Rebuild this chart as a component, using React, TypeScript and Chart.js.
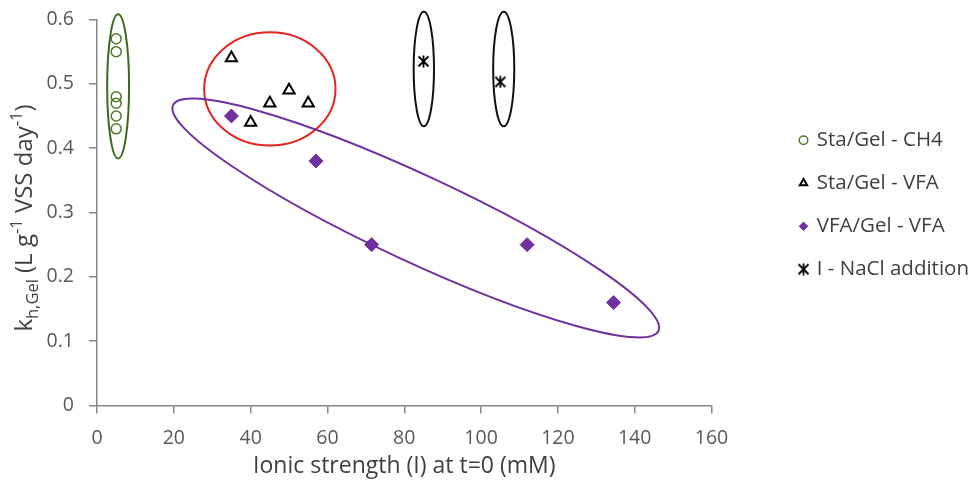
import React, { useEffect, useRef } from 'react';
import { Chart, registerables } from 'chart.js';

Chart.register(...registerables);

// ---- data ----
const seriesLabels = ['Sta/Gel - CH4', 'Sta/Gel - VFA', 'VFA/Gel - VFA', 'I - NaCl addition'];
const staCh4X = [5, 5, 5, 5, 5, 5];
const staCh4Y = [0.57, 0.55, 0.48, 0.47, 0.45, 0.43];
const staVfaX = [35, 40, 45, 50, 55];
const staVfaY = [0.54, 0.44, 0.47, 0.49, 0.47];
const vfaVfaX = [35, 57, 71.5, 112, 134.5];
const vfaVfaY = [0.45, 0.38, 0.25, 0.25, 0.16];
const naclX = [85, 105];
const naclY = [0.535, 0.503];
const xTicks = [0, 20, 40, 60, 80, 100, 120, 140, 160];
const yTicks = [0, 0.1, 0.2, 0.3, 0.4, 0.5, 0.6];
const xTitle = 'Ionic strength (I) at t=0 (mM)';
const yTitleParts = [
  { t: 'k', k: 'n' },
  { t: 'h,Gel', k: 'sub' },
  { t: ' (L g', k: 'n' },
  { t: '-1', k: 'sup' },
  { t: ' VSS day', k: 'n' },
  { t: '-1', k: 'sup' },
  { t: ')', k: 'n' },
];

// group outlines (annotations, in data units)
const groupEllipses = [
  { cx: 5.5, cy: 0.496, rx: 2.85, ry: 0.112, color: '#3b6a1f' },
  { cx: 45, cy: 0.492, rx: 17.1, ry: 0.088, color: '#e3241f' },
  { cx: 85.1, cy: 0.523, rx: 2.65, ry: 0.089, color: '#111111' },
  { cx: 105.9, cy: 0.523, rx: 2.75, ry: 0.089, color: '#111111' },
];
const tiltedEllipse = { x1: 19.8, y1: 0.467, x2: 146.2, y2: 0.116, ratio: 0.161, color: '#7030a0' };

const FONT = "'Open Sans', sans-serif";
const zip = (xs: number[], ys: number[]) => xs.map((x, i) => ({ x, y: ys[i] }));

const ellipsePlugin = {
  id: 'groupEllipses',
  beforeDatasetsDraw(chart: any) {
    const { ctx, scales } = chart;
    const xs = scales.x, ys = scales.y;
    ctx.save();
    ctx.lineWidth = 2;
    for (const e of groupEllipses) {
      const cx = xs.getPixelForValue(e.cx);
      const cy = ys.getPixelForValue(e.cy);
      const rx = Math.abs(xs.getPixelForValue(e.cx + e.rx) - cx);
      const ry = Math.abs(ys.getPixelForValue(e.cy + e.ry) - cy);
      ctx.strokeStyle = e.color;
      ctx.beginPath();
      ctx.ellipse(cx, cy, rx, ry, 0, 0, Math.PI * 2);
      ctx.stroke();
    }
    const t = tiltedEllipse;
    const p1x = xs.getPixelForValue(t.x1), p1y = ys.getPixelForValue(t.y1);
    const p2x = xs.getPixelForValue(t.x2), p2y = ys.getPixelForValue(t.y2);
    const a = Math.hypot(p2x - p1x, p2y - p1y) / 2;
    ctx.strokeStyle = t.color;
    ctx.beginPath();
    ctx.ellipse((p1x + p2x) / 2, (p1y + p2y) / 2, a, a * t.ratio, Math.atan2(p2y - p1y, p2x - p1x), 0, Math.PI * 2);
    ctx.stroke();
    ctx.restore();
  },
};

const yTitlePlugin = {
  id: 'yTitleRich',
  afterDraw(chart: any) {
    const { ctx, chartArea } = chart;
    const mainFont = `24px ${FONT}`;
    const smallFont = `16.5px ${FONT}`;
    ctx.save();
    ctx.translate(32, (chartArea.top + chartArea.bottom) / 2 + 5.5);
    ctx.rotate(-Math.PI / 2);
    let total = 0;
    const widths = yTitleParts.map((p) => {
      ctx.font = p.k === 'n' ? mainFont : smallFont;
      const w = ctx.measureText(p.t).width;
      total += w;
      return w;
    });
    let x = -total / 2;
    ctx.fillStyle = '#404040';
    ctx.textBaseline = 'alphabetic';
    ctx.textAlign = 'left';
    yTitleParts.forEach((p, i) => {
      ctx.font = p.k === 'n' ? mainFont : smallFont;
      const dy = p.k === 'sub' ? 5.5 : p.k === 'sup' ? -10 : 0;
      ctx.fillText(p.t, x, dy);
      x += widths[i];
    });
    ctx.restore();
  },
};

function makeStar() {
  const c = document.createElement('canvas');
  c.width = 13;
  c.height = 13;
  const g = c.getContext('2d')!;
  g.strokeStyle = '#000';
  g.lineWidth = 1.8;
  g.beginPath();
  g.moveTo(1.5, 1.5); g.lineTo(11.5, 11.5);
  g.moveTo(11.5, 1.5); g.lineTo(1.5, 11.5);
  g.moveTo(6.5, 0.5); g.lineTo(6.5, 12.5);
  g.stroke();
  return c;
}

export default function App() {
  const ref = useRef<HTMLCanvasElement>(null);
  useEffect(() => {
    const canvas = ref.current!;
    Chart.defaults.font.family = FONT;
    const star = makeStar();
    const axisGray = '#868686';
    const chart = new Chart(canvas, {
      type: 'scatter',
      data: {
        datasets: [
          { label: seriesLabels[0], data: zip(staCh4X, staCh4Y), pointStyle: 'circle', pointRadius: 5, backgroundColor: 'rgba(0,0,0,0)', borderColor: '#4f7a2c', borderWidth: 1.5 },
          { label: seriesLabels[1], data: zip(staVfaX, staVfaY), pointStyle: 'triangle', pointRadius: 6.5, backgroundColor: 'rgba(0,0,0,0)', borderColor: '#000000', borderWidth: 2 },
          { label: seriesLabels[2], data: zip(vfaVfaX, vfaVfaY), pointStyle: 'rectRot', pointRadius: 7, backgroundColor: '#7030a0', borderColor: '#7030a0', borderWidth: 1 },
          { label: seriesLabels[3], data: zip(naclX, naclY), pointStyle: star as any, pointRadius: 6, backgroundColor: '#000', borderColor: '#000', borderWidth: 2 },
        ],
      },
      options: {
        responsive: false,
        animation: false,
        layout: { padding: { left: 0, top: 19.5, right: -7, bottom: 0 } },
        plugins: {
          tooltip: { enabled: false },
          legend: {
            position: 'right',
            align: 'center',
            fullSize: false,
            labels: {
              usePointStyle: true,
              boxWidth: 6,
              boxHeight: 6,
              padding: 7,
              color: '#404040',
              font: { size: 20.5, lineHeight: '36px' } as any,
              generateLabels: (c: any) =>
                (Chart.defaults.plugins.legend.labels.generateLabels as any)(c).map((l: any) => ({ ...l, text: [l.text] })),
            },
          },
        },
        scales: {
          x: {
            type: 'linear',
            min: xTicks[0],
            max: xTicks[xTicks.length - 1],
            afterBuildTicks: (s: any) => { s.ticks = xTicks.map((v) => ({ value: v })); },
            afterFit: (s: any) => { s.height = 81.5; },
            grid: { display: true, drawOnChartArea: false, drawTicks: true, tickLength: 8, tickColor: axisGray, lineWidth: 1.5 },
            border: { display: true, color: axisGray, width: 1.5 },
            ticks: { color: '#595959', font: { size: 19.5 }, padding: 13.5, callback: (v: any) => String(v) },
            title: { display: true, text: xTitle, color: '#404040', font: { size: 23 }, padding: { top: 0, bottom: 7 } },
          },
          y: {
            type: 'linear',
            min: yTicks[0],
            max: yTicks[yTicks.length - 1],
            afterBuildTicks: (s: any) => { s.ticks = yTicks.map((v) => ({ value: v })); },
            afterFit: (s: any) => { s.width = 97; s.paddingTop = 0; s.paddingBottom = 0; },
            grid: { display: true, drawOnChartArea: false, drawTicks: true, tickLength: 8, tickColor: axisGray, lineWidth: 1.5 },
            border: { display: true, color: axisGray, width: 1.5 },
            ticks: { color: '#595959', font: { size: 19.5 }, padding: 15, callback: (v: any) => (v === 0 ? '0' : Number(v).toFixed(1)) },
          },
          gap: {
            type: 'linear',
            position: 'right',
            display: false,
            afterFit: (s: any) => { s.width = 82; },
          },
        },
      } as any,
      plugins: [ellipsePlugin, yTitlePlugin],
    });
    return () => chart.destroy();
  }, []);
  return (
    <div style={{ position: 'fixed', left: 0, top: 0, width: 972, height: 487, background: '#fff' }}>
      <canvas ref={ref} width={972} height={487} style={{ display: 'block', width: 972, height: 487 }} />
    </div>
  );
}
